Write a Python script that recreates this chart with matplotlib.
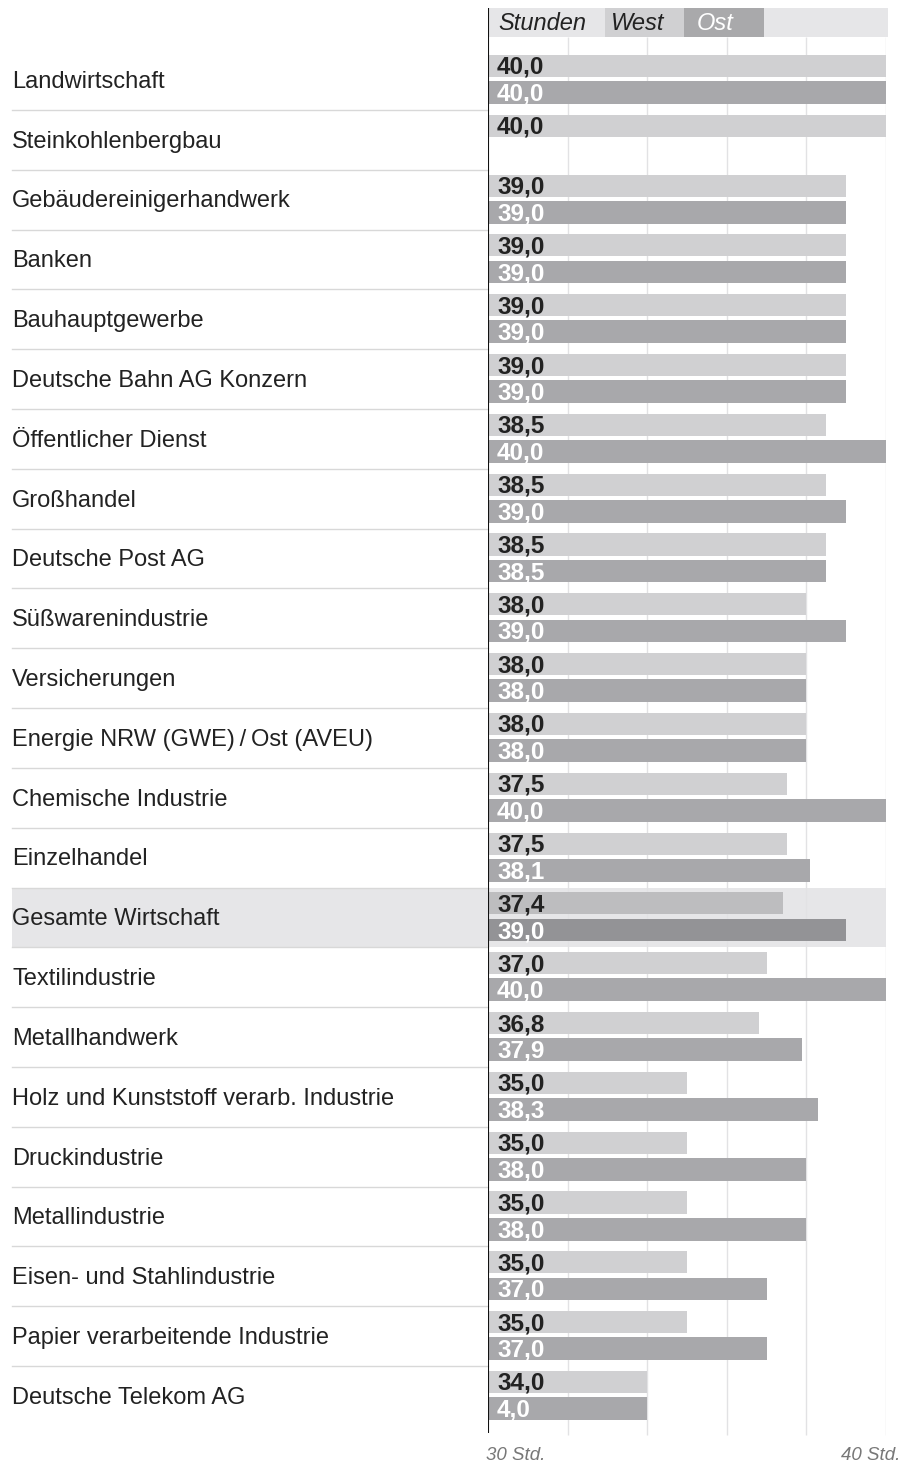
import numpy as np
import matplotlib.pyplot as plt
from matplotlib.patches import Rectangle

plt.rcParams["font.family"] = ["Liberation Sans", "DejaVu Sans"]

# Daten: tarifliche Wochenarbeitszeit in Stunden
branchen = [
    "Landwirtschaft", "Steinkohlenbergbau", "Gebäudereinigerhandwerk", "Banken",
    "Bauhauptgewerbe", "Deutsche Bahn AG Konzern", "Öffentlicher Dienst", "Großhandel",
    "Deutsche Post AG", "Süßwarenindustrie", "Versicherungen",
    "Energie NRW (GWE)\u2009/\u2009Ost (AVEU)", "Chemische Industrie", "Einzelhandel",
    "Gesamte Wirtschaft", "Textilindustrie", "Metallhandwerk",
    "Holz und Kunststoff verarb. Industrie", "Druckindustrie", "Metallindustrie",
    "Eisen- und Stahlindustrie", "Papier verarbeitende Industrie", "Deutsche Telekom AG",
]
west = [40.0, 40.0, 39.0, 39.0, 39.0, 39.0, 38.5, 38.5, 38.5, 38.0, 38.0, 38.0,
        37.5, 37.5, 37.4, 37.0, 36.8, 35.0, 35.0, 35.0, 35.0, 35.0, 34.0]
ost = [40.0, np.nan, 39.0, 39.0, 39.0, 39.0, 40.0, 39.0, 38.5, 39.0, 38.0, 38.0,
       40.0, 38.1, 39.0, 40.0, 37.9, 38.3, 38.0, 38.0, 37.0, 37.0, 34.0]
# Beschriftung wie im Original (Telekom Ost steht dort als "4,0")
ost_labels = ["40,0", "", "39,0", "39,0", "39,0", "39,0", "40,0", "39,0", "38,5", "39,0",
              "38,0", "38,0", "40,0", "38,1", "39,0", "40,0", "37,9", "38,3", "38,0",
              "38,0", "37,0", "37,0", "4,0"]
highlight = "Gesamte Wirtschaft"

W, H = 901, 1463
ROW = 59.82
Y0 = 80  # Pixelmitte der ersten Zeile


def py(px):
    # Pixel-y -> Zeileneinheiten
    return (px - Y0) / ROW


def hx(px):
    # Pixel-x -> Stunden
    return 30 + (px - 488) / (886 - 488) * 10


fig = plt.figure(figsize=(W / 100, H / 100), dpi=100)
ax_top, ax_bot = 8, 1440
ax = fig.add_axes([488 / W, (H - ax_bot) / H, (886 - 488) / W, (ax_bot - ax_top) / H])
ax.set_xlim(30, 40)
ax.set_ylim(py(ax_bot), py(ax_top))
ax.axis("off")

n = len(branchen)
rows = np.arange(n)
west = np.array(west)
ost = np.array(ost)
hi = np.array([b == highlight for b in branchen])

# hervorgehobene Zeile
for i in rows[hi]:
    ax.add_patch(Rectangle((hx(12), i - 0.5), 40 - hx(12), 1.0, facecolor="#e6e6e8",
                           edgecolor="none", clip_on=False, zorder=0))

# Gitterlinien
ax.vlines([32, 34, 36, 38, 40], py(37), py(1435), color="#e2e2e4", lw=1.0, zorder=0.5)

# Trennlinien links
for i in range(n - 1):
    ax.plot([hx(12), 30], [i + 0.5, i + 0.5], color="#d8d8d8", lw=1.0,
            clip_on=False, zorder=0.6)

# Kopfzeile
hy0, hy1 = py(8), py(37)
for x0, x1, c in [(488, 888, "#e6e6e8"), (605, 684, "#d0d0d2"), (684, 764, "#a9a9ab")]:
    ax.add_patch(Rectangle((hx(x0), hy1), hx(x1) - hx(x0), hy0 - hy1, facecolor=c,
                           edgecolor="none", clip_on=False, zorder=1))
hyc = (hy0 + hy1) / 2 + 0.02
ax.text(hx(498), hyc, "Stunden", style="italic", fontsize=17, color="#222222",
        va="center", ha="left", zorder=3)
ax.text(hx(611), hyc, "West", style="italic", fontsize=17, color="#222222",
        va="center", ha="left", zorder=3)
ax.text(hx(697), hyc, "Ost", style="italic", fontsize=17, color="white",
        va="center", ha="left", zorder=3)

# Balken
w_off, w_h = -0.235, 0.37
o_off, o_h = 0.21, 0.38
w_col = np.where(hi, "#bdbdbf", "#d0d0d2")
o_col = np.where(hi, "#939396", "#a8a8ab")
ax.barh(rows + w_off, west - 30, left=30, height=w_h, color=w_col, zorder=2)
mask = ~np.isnan(ost)
ax.barh(rows[mask] + o_off, ost[mask] - 30, left=30, height=o_h, color=o_col[mask], zorder=2)

# Werte
dig = 8.0 / ROW
for i in rows:
    ax.text(hx(497), i + w_off + dig, f"{west[i]:.1f}".replace(".", ","), fontsize=17.5,
            fontweight="bold", color="#222222", va="baseline", ha="left", zorder=3)
    if ost_labels[i]:
        ax.text(hx(497), i + o_off + dig, ost_labels[i], fontsize=17.5,
                fontweight="bold", color="white", va="baseline", ha="left", zorder=3)

# Branchen
for i in rows:
    ax.text(hx(12), i + 0.03, branchen[i], fontsize=17, color="#222222",
            va="center", ha="left", zorder=3)

# Achse
ax.vlines(30, py(8), py(1433), color="#111111", lw=1.5, zorder=4)

ax.text(hx(486), py(1455), "30 Std.", style="italic", fontsize=13.5, color="#777777",
        va="center", ha="left")
ax.text(hx(900), py(1455), "40 Std.", style="italic", fontsize=13.5, color="#777777",
        va="center", ha="right")

fig.savefig("out.png", dpi=100)
